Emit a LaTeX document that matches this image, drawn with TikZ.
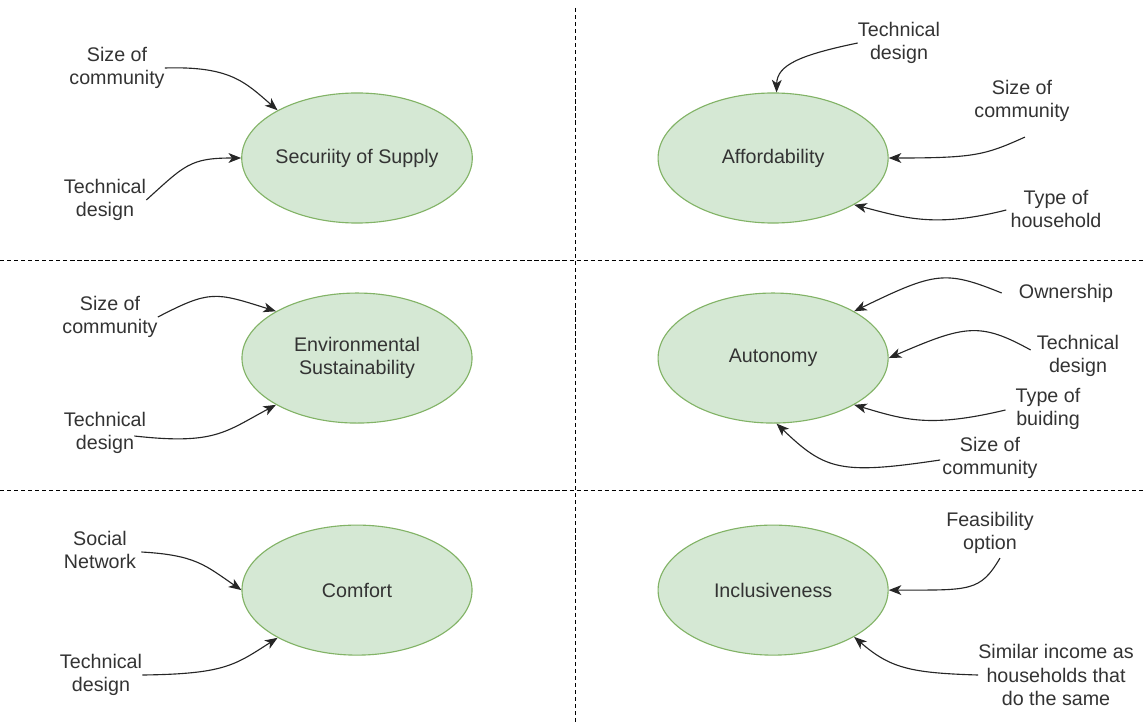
\documentclass[tikz,border=0pt]{standalone}
\usepackage{fontspec}
\setmainfont{Liberation Sans}
\usetikzlibrary{positioning,shapes.geometric,arrows.meta}
\definecolor{ellfill}{HTML}{D5E8D4}
\definecolor{elldraw}{HTML}{82B366}
\definecolor{txtgray}{HTML}{333333}

\begin{document}
\begin{tikzpicture}[x=0.025cm, y=-0.025cm,
    aspect/.style={ellipse, draw=elldraw, fill=ellfill, line width=0.8pt, minimum width=5.75cm, minimum height=3.25cm, inner sep=0pt, text=txtgray, align=center, font=\fontsize{14}{16.5}\selectfont},
    factor/.style={inner sep=0pt, text=txtgray, align=center, font=\fontsize{14}{16.5}\selectfont},
    line/.style={draw=black!85, line width=0.8pt, -{Stealth[length=9pt,width=7pt,inset=2.5pt]}},
    divider/.style={draw=black, dash pattern=on 3pt off 2pt, line width=0.6pt}]

    \useasboundingbox (0,0) rectangle (1144,722);

    % quadrant dividers
    \draw [divider] (575,8) -- (575,722);
    \draw [divider] (0,260) -- (1144,260);
    \draw [divider] (0,490) -- (1144,490);

    \node [aspect] (security) at (357,158) {Securiity of Supply};
    \node [aspect, right of=security, node distance=10.4cm] (afford) {Affordability};
    \node [aspect, below of=security, node distance=5cm] (environ) {Environmental\\Sustainability};
    \node [aspect, right of=environ, node distance=10.4cm] (autonomy) {Autonomy};
    \node [aspect, below of=environ, node distance=5.8cm] (comfort) {Comfort};
    \node [aspect, right of=comfort, node distance=10.4cm] (inclusive) {Inclusiveness};

    % factors
    \node [factor] (secsize) at (117,68) {Size of\\community};
    \node [factor] (sectech) at (105,200) {Technical\\design};
    \node [factor] (afftech) at (899,43) {Technical\\design};
    \node [factor] (affsize) at (1022,101) {Size of\\community};
    \node [factor] (afftype) at (1056,209) {Type of\\household};
    \node [factor] (autown) at (1066,293) {Ownership};
    \node [factor] (auttech) at (1078,356) {Technical\\design};
    \node [factor] (auttype) at (1048,409) {Type of\\buiding};
    \node [factor] (autsize) at (990,458) {Size of\\community};
    \node [factor] (envsize) at (110,317) {Size of\\community};
    \node [factor] (envtech) at (105,433) {Technical\\design};
    \node [factor] (comsoc) at (100,550) {Social\\Network};
    \node [factor] (comtech) at (101,675) {Technical\\design};
    \node [factor] (incfeas) at (990,533) {Feasibility\\option};
    \node [factor] (incsim) at (1056,675) {Similar income as\\households that\\do the same};

    \path [line] (secsize.east) .. controls (230,66) and (245,82) .. (security.149);
    \path [line] (sectech.east) .. controls (185,165) and (190,158) .. (security.west);
    \path [line] (afftech.west) .. controls (800,55) and (777,65) .. (afford.87);
    \path [line] ([shift={(3,15)}]affsize.south) .. controls (985,155) and (975,158) .. (afford.east);
    \path [line] ([shift={(-4,1)}]afftype.west) .. controls (935,228) and (905,218) .. (afford.-30);
    \path [line] ([shift={(-17,0)}]autown.west) .. controls (945,270) and (935,272) .. (autonomy.30);
    \path [line] ([shift={(-6,-6)}]auttech.west) .. controls (980,322) and (965,325) .. (autonomy.east);
    \path [line] ([shift={(-10,1)}]auttype.west) .. controls (930,428) and (905,420) .. (autonomy.-30);
    \path [line] ([shift={(-2,2)}]autsize.west) .. controls (840,475) and (825,470) .. (autonomy.-87);
    \path [line] (envsize.east) .. controls (210,290) and (215,292) .. (environ.150);
    \path [line] ([shift={(-12,3)}]envtech.east) .. controls (215,445) and (225,432) .. (environ.210);
    \path [line] ([shift={(5,2)}]comsoc.east) .. controls (195,555) and (205,565) .. (comfort.west);
    \path [line] (comtech.east) .. controls (225,674) and (235,665) .. (comfort.211);
    \path [line] ([shift={(10,4)}]incfeas.south) .. controls (980,592) and (970,590) .. (inclusive.east);
    \path [line] (incsim.west) .. controls (910,673) and (890,668) .. (inclusive.-30);
\end{tikzpicture}
\end{document}
